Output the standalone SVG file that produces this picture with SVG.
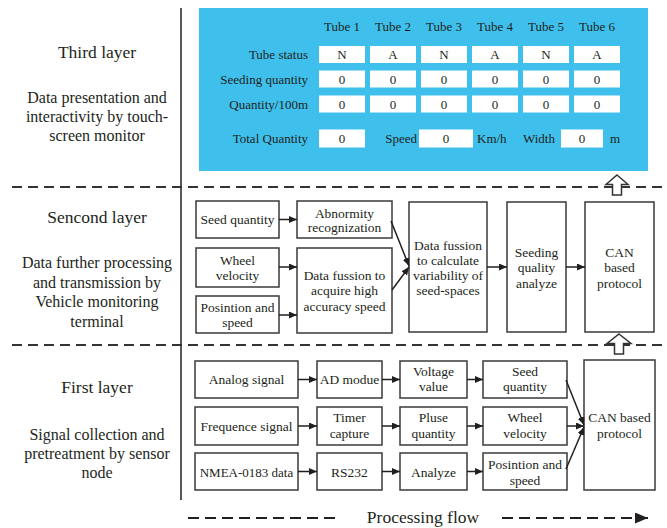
<svg xmlns="http://www.w3.org/2000/svg" width="667" height="528" viewBox="0 0 667 528">
<defs>
<marker id="ah" markerUnits="userSpaceOnUse" markerWidth="9" markerHeight="8" refX="8" refY="3.5" orient="auto">
<path d="M0,0 L8,3.5 L0,7 z" fill="#231f20"/>
</marker>
<marker id="ahb" markerUnits="userSpaceOnUse" markerWidth="14" markerHeight="12" refX="13" refY="5.5" orient="auto">
<path d="M0,0 L13,5.5 L0,11 z" fill="#231f20"/>
</marker>
</defs>
<style>
text{font-family:"Liberation Serif","Times New Roman",serif;fill:#231f20;}
.t{font-size:13.5px;text-anchor:middle;}
.p{font-size:13px;}
.pc{font-size:13px;text-anchor:middle;}
.pr{font-size:13px;text-anchor:end;}
.h{font-size:17.5px;text-anchor:middle;}
.d{font-size:16px;text-anchor:middle;}
.box{fill:#fff;stroke:#3a3a3a;stroke-width:1.5;}
.cell{fill:#fff;}
.dash{stroke:#333;stroke-width:2;stroke-dasharray:10 6;fill:none;}
.c{stroke:#231f20;stroke-width:1.5;fill:none;marker-end:url(#ah);}
.up{fill:#fff;stroke:#333;stroke-width:1.5;}
</style>
<rect width="667" height="528" fill="#fff"/>

<!-- Layer labels -->
<g id="third-layer-label">
<text class="h" x="97" y="58">Third layer</text>
<text class="d" x="97" y="103">Data presentation and</text>
<text class="d" x="97" y="122">interactivity by touch-</text>
<text class="d" x="97" y="141">screen monitor</text>
</g>
<g id="second-layer-label">
<text class="h" x="97" y="223">Sencond layer</text>
<text class="d" x="97" y="268">Data further processing</text>
<text class="d" x="97" y="288">and transmission by</text>
<text class="d" x="97" y="307">Vehicle monitoring</text>
<text class="d" x="97" y="327">terminal</text>
</g>
<g id="first-layer-label">
<text class="h" x="97" y="393">First layer</text>
<text class="d" x="97" y="440">Signal collection and</text>
<text class="d" x="97" y="459">pretreatment by sensor</text>
<text class="d" x="97" y="478">node</text>
</g>

<!-- separators -->
<g id="separators">
<line x1="181" y1="8" x2="181" y2="500" stroke="#231f20" stroke-width="1.5"/>
<line class="dash" x1="12" y1="187" x2="665" y2="187"/>
<line class="dash" x1="12" y1="345" x2="665" y2="345"/>
</g>

<!-- Third layer panel -->
<g id="monitor-panel">
<rect x="199" y="8" width="449" height="163" fill="#3ebfec"/>
<text class="pc" x="342" y="31">Tube 1</text>
<text class="pc" x="393" y="31">Tube 2</text>
<text class="pc" x="444" y="31">Tube 3</text>
<text class="pc" x="495" y="31">Tube 4</text>
<text class="pc" x="546" y="31">Tube 5</text>
<text class="pc" x="597" y="31">Tube 6</text>
<text class="pr" x="308" y="59">Tube status</text>
<text class="pr" x="308" y="83.5">Seeding quantity</text>
<text class="pr" x="308" y="108.5">Quantity/100m</text>
<text class="pr" x="308" y="142.5">Total Quantity</text>
<g>
<rect class="cell" x="319" y="46" width="46" height="17"/>
<rect class="cell" x="370" y="46" width="46" height="17"/>
<rect class="cell" x="421" y="46" width="46" height="17"/>
<rect class="cell" x="472" y="46" width="46" height="17"/>
<rect class="cell" x="523" y="46" width="46" height="17"/>
<rect class="cell" x="574" y="46" width="46" height="17"/>
<rect class="cell" x="319" y="70.5" width="46" height="17"/>
<rect class="cell" x="370" y="70.5" width="46" height="17"/>
<rect class="cell" x="421" y="70.5" width="46" height="17"/>
<rect class="cell" x="472" y="70.5" width="46" height="17"/>
<rect class="cell" x="523" y="70.5" width="46" height="17"/>
<rect class="cell" x="574" y="70.5" width="46" height="17"/>
<rect class="cell" x="319" y="95.5" width="46" height="17"/>
<rect class="cell" x="370" y="95.5" width="46" height="17"/>
<rect class="cell" x="421" y="95.5" width="46" height="17"/>
<rect class="cell" x="472" y="95.5" width="46" height="17"/>
<rect class="cell" x="523" y="95.5" width="46" height="17"/>
<rect class="cell" x="574" y="95.5" width="46" height="17"/>
<rect class="cell" x="319" y="129.5" width="46" height="18"/>
<rect class="cell" x="419" y="129.5" width="54" height="18"/>
<rect class="cell" x="561" y="129.5" width="42" height="18"/>
</g>
<text class="pc" x="342" y="59">N</text>
<text class="pc" x="393" y="59">A</text>
<text class="pc" x="444" y="59">N</text>
<text class="pc" x="495" y="59">A</text>
<text class="pc" x="546" y="59">N</text>
<text class="pc" x="597" y="59">A</text>
<text class="pc" x="342" y="83.5">0</text>
<text class="pc" x="393" y="83.5">0</text>
<text class="pc" x="444" y="83.5">0</text>
<text class="pc" x="495" y="83.5">0</text>
<text class="pc" x="546" y="83.5">0</text>
<text class="pc" x="597" y="83.5">0</text>
<text class="pc" x="342" y="108.5">0</text>
<text class="pc" x="393" y="108.5">0</text>
<text class="pc" x="444" y="108.5">0</text>
<text class="pc" x="495" y="108.5">0</text>
<text class="pc" x="546" y="108.5">0</text>
<text class="pc" x="597" y="108.5">0</text>
<text class="pc" x="342" y="143">0</text>
<text class="pr" x="417" y="143">Speed</text>
<text class="pc" x="446" y="143">0</text>
<text class="p" x="477" y="143">Km/h</text>
<text class="p" x="523" y="143">Width</text>
<text class="pc" x="582" y="143">0</text>
<text class="p" x="610" y="143">m</text>
</g>

<!-- Second layer nodes -->
<g id="n2-seed-quantity"><rect class="box" x="196" y="201" width="83" height="37"/><text class="t" x="237.5" y="224">Seed quantity</text></g>
<g id="n2-wheel-velocity"><rect class="box" x="196" y="248" width="83" height="39"/><text class="t" x="237.5" y="264.5">Wheel</text><text class="t" x="237.5" y="279.5">velocity</text></g>
<g id="n2-position-speed"><rect class="box" x="196" y="296" width="83" height="37"/><text class="t" x="237.5" y="311.5">Posintion and</text><text class="t" x="237.5" y="326.5">speed</text></g>
<g id="n2-abnormity"><rect class="box" x="297" y="201" width="95" height="37"/><text class="t" x="344.5" y="217.5">Abnormity</text><text class="t" x="344.5" y="232">recognization</text></g>
<g id="n2-fusion-speed"><rect class="box" x="297" y="248" width="95" height="85"/><text class="t" x="344.5" y="279.5">Data fussion to</text><text class="t" x="344.5" y="295">acquire high</text><text class="t" x="344.5" y="311">accuracy speed</text></g>
<g id="n2-fusion-spaces"><rect class="box" x="409" y="202" width="78" height="130"/><text class="t" x="448" y="249.5">Data fussion</text><text class="t" x="448" y="264.5">to calculate</text><text class="t" x="448" y="279.5">variability of</text><text class="t" x="448" y="294.5">seed-spaces</text></g>
<g id="n2-seeding-quality"><rect class="box" x="507" y="202" width="59" height="130"/><text class="t" x="536.5" y="256.5">Seeding</text><text class="t" x="536.5" y="272">quality</text><text class="t" x="536.5" y="287.5">analyze</text></g>
<g id="n2-can"><rect class="box" x="585" y="202" width="69" height="130"/><text class="t" x="619.5" y="256.5">CAN</text><text class="t" x="619.5" y="272">based</text><text class="t" x="619.5" y="287.5">protocol</text></g>

<!-- First layer nodes -->
<g id="n1-analog"><rect class="box" x="195" y="361" width="103" height="37"/><text class="t" x="246.5" y="384">Analog signal</text></g>
<g id="n1-ad"><rect class="box" x="317" y="361" width="65" height="37"/><text class="t" x="349.5" y="384">AD modue</text></g>
<g id="n1-voltage"><rect class="box" x="400" y="361" width="67" height="37"/><text class="t" x="433.5" y="375.5">Voltage</text><text class="t" x="433.5" y="391">value</text></g>
<g id="n1-seed"><rect class="box" x="483" y="361" width="84" height="37"/><text class="t" x="525" y="375.5">Seed</text><text class="t" x="525" y="391">quantity</text></g>
<g id="n1-frequence"><rect class="box" x="195" y="407" width="103" height="38"/><text class="t" x="246.5" y="430.5">Frequence signal</text></g>
<g id="n1-timer"><rect class="box" x="317" y="407" width="65" height="38"/><text class="t" x="349.5" y="422">Timer</text><text class="t" x="349.5" y="437.5">capture</text></g>
<g id="n1-pluse"><rect class="box" x="400" y="407" width="67" height="38"/><text class="t" x="433.5" y="422">Pluse</text><text class="t" x="433.5" y="437.5">quantity</text></g>
<g id="n1-wheel"><rect class="box" x="483" y="407" width="84" height="38"/><text class="t" x="525" y="422">Wheel</text><text class="t" x="525" y="437.5">velocity</text></g>
<g id="n1-nmea"><rect class="box" x="195" y="453" width="103" height="37"/><text class="t" x="246.5" y="476.5" style="font-size:13px">NMEA-0183 data</text></g>
<g id="n1-rs232"><rect class="box" x="317" y="453" width="65" height="37"/><text class="t" x="349.5" y="476.5">RS232</text></g>
<g id="n1-analyze"><rect class="box" x="400" y="453" width="67" height="37"/><text class="t" x="433.5" y="476.5">Analyze</text></g>
<g id="n1-position"><rect class="box" x="483" y="453" width="84" height="37"/><text class="t" x="525" y="469">Posintion and</text><text class="t" x="525" y="484.5">speed</text></g>
<g id="n1-can"><rect class="box" x="584" y="360" width="71" height="130"/><text class="t" x="619.5" y="422">CAN based</text><text class="t" x="619.5" y="437.5">protocol</text></g>

<!-- connectors -->
<g id="connectors">
<line class="c" x1="279" y1="219.5" x2="297" y2="219.5"/>
<line class="c" x1="279" y1="267" x2="297" y2="267"/>
<line class="c" x1="279" y1="315" x2="297" y2="315"/>
<line class="c" x1="391" y1="221" x2="409" y2="266"/>
<line class="c" x1="392" y1="290" x2="409" y2="267"/>
<line class="c" x1="487" y1="267" x2="507" y2="267"/>
<line class="c" x1="566" y1="267" x2="585" y2="267"/>

<line class="c" x1="298" y1="379.5" x2="317" y2="379.5"/>
<line class="c" x1="382" y1="379.5" x2="400" y2="379.5"/>
<line class="c" x1="467" y1="379.5" x2="483" y2="379.5"/>
<line class="c" x1="298" y1="426" x2="317" y2="426"/>
<line class="c" x1="382" y1="426" x2="400" y2="426"/>
<line class="c" x1="467" y1="426" x2="483" y2="426"/>
<line class="c" x1="298" y1="471.5" x2="317" y2="471.5"/>
<line class="c" x1="382" y1="471.5" x2="400" y2="471.5"/>
<line class="c" x1="467" y1="471.5" x2="483" y2="471.5"/>
<line class="c" x1="566" y1="380" x2="584" y2="425"/>
<line class="c" x1="567" y1="426" x2="584" y2="426"/>
<line class="c" x1="566" y1="469" x2="584" y2="427"/>

<polygon class="up" points="617,175 628,184.5 621.5,184.5 621.5,195 612.5,195 612.5,184.5 606,184.5"/>
<polygon class="up" points="619,334 631,343.5 623.5,343.5 623.5,354 614.5,354 614.5,343.5 607,343.5"/>

<line x1="188" y1="518" x2="337" y2="518" stroke="#231f20" stroke-width="2" stroke-dasharray="11 6"/>
<line x1="502" y1="518" x2="648" y2="518" stroke="#231f20" stroke-width="2" stroke-dasharray="11 6" marker-end="url(#ahb)"/>
</g>
<text x="423" y="523" style="font-size:17.5px;text-anchor:middle">Processing flow</text>
</svg>
